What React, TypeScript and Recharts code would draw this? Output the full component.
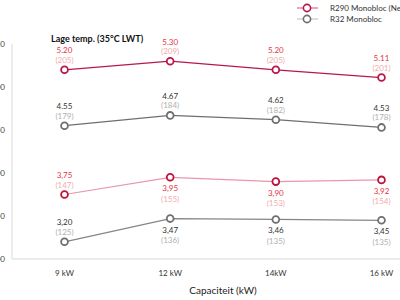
import { LineChart, Line, XAxis, YAxis, LabelList } from "recharts";

const categories = ["9 kW", "12 kW", "14kW", "16 kW"];

// Lage temp. (35°C LWT)
const r290Low = [5.2, 5.3, 5.2, 5.11];
const r290LowText = ["5.20", "5.30", "5.20", "5.11"];
const r290LowSub = ["(205)", "(209)", "(205)", "(201)"];
const r32Low = [4.55, 4.67, 4.62, 4.53];
const r32LowText = ["4.55", "4.67", "4.62", "4.53"];
const r32LowSub = ["(179)", "(184)", "(182)", "(178)"];

// second temperature regime
const r290High = [3.75, 3.95, 3.9, 3.92];
const r290HighText = ["3,75", "3,95", "3,90", "3,92"];
const r290HighSub = ["(147)", "(155)", "(153)", "(154)"];
const r32High = [3.2, 3.47, 3.46, 3.45];
const r32HighText = ["3,20", "3,47", "3,46", "3,45"];
const r32HighSub = ["(125)", "(136)", "(135)", "(135)"];

const yTicks = [3, 3.5, 4, 4.5, 5, 5.5];

const data = categories.map((c, i) => ({
  cat: c,
  r290Low: r290Low[i],
  r32Low: r32Low[i],
  r290High: r290High[i],
  r32High: r32High[i],
}));

const FONT = "Lato, 'Open Sans', sans-serif";
const CRIMSON = "#B8174A";
const RED_TEXT = "#E5343F";
const PINK_TEXT = "#F2ABAB";
const GREY = "#6F6F6F";

function makeLabel(
  texts: string[],
  subs: string[],
  mainColor: string,
  subColor: string,
  below: (i: number) => boolean
) {
  return (props: any) => {
    const { x, y, index } = props;
    const down = below(index);
    const y1 = down ? y + 11 : y - 19.5;
    const y2 = down ? y + 21.5 : y - 10;
    return (
      <g fontFamily={FONT} fontSize={8} textAnchor="middle">
        <text x={x} y={y1} dominantBaseline="central" fill={mainColor}>
          {texts[index]}
        </text>
        <text x={x} y={y2} dominantBaseline="central" fill={subColor}>
          {subs[index]}
        </text>
      </g>
    );
  };
}

const dot = (color: string) => ({ r: 3.4, stroke: color, strokeWidth: 1.8, fill: "#fff" });

export default function App() {
  return (
    <div style={{ position: "absolute", left: 0, top: 0, width: 400, height: 300, overflow: "hidden", background: "#fff" }}>
      <div style={{ position: "absolute", left: -28, top: 0 }}>
        <LineChart width={470} height={300} data={data} margin={{ top: 44, right: 8, left: 0, bottom: 0 }}>
          <XAxis
            dataKey="cat"
            height={41}
            padding={{ left: 52.5, right: 52.5 }}
            axisLine={{ stroke: "#D9D9D9" }}
            tickLine={false}
            tickSize={0}
            tickMargin={11}
            tick={{ fill: "#333", fontSize: 8, fontFamily: FONT }}
            label={{ value: "Capaciteit (kW)", position: "insideBottom", offset: 6, fill: "#222", fontSize: 10, fontFamily: FONT }}
          />
          <YAxis
            width={40}
            domain={[3, 5.5]}
            ticks={yTicks}
            axisLine={{ stroke: "#D9D9D9" }}
            tickLine={false}
            tickSize={0}
            tickMargin={7}
            tickFormatter={(v: number) => v.toFixed(2)}
            tick={{ fill: "#444", fontSize: 8, fontFamily: FONT }}
          />
          <Line dataKey="r290Low" stroke={CRIMSON} strokeWidth={1.2} dot={dot(CRIMSON)} isAnimationActive={false}>
            <LabelList content={makeLabel(r290LowText, r290LowSub, RED_TEXT, PINK_TEXT, () => false)} />
          </Line>
          <Line dataKey="r32Low" stroke={GREY} strokeWidth={1.2} dot={dot(GREY)} isAnimationActive={false}>
            <LabelList content={makeLabel(r32LowText, r32LowSub, "#333", "#B0B0B0", () => false)} />
          </Line>
          <Line dataKey="r290High" stroke="#E996AB" strokeWidth={1.2} dot={dot("#C0103C")} isAnimationActive={false}>
            <LabelList content={makeLabel(r290HighText, r290HighSub, RED_TEXT, PINK_TEXT, (i) => i > 0)} />
          </Line>
          <Line dataKey="r32High" stroke="#858585" strokeWidth={1.2} dot={dot(GREY)} isAnimationActive={false}>
            <LabelList content={makeLabel(r32HighText, r32HighSub, "#333", "#B0B0B0", (i) => i > 0)} />
          </Line>
        </LineChart>
      </div>
      <div style={{ position: "absolute", left: 51, top: 33, fontFamily: FONT, fontSize: 9, fontWeight: 700, color: "#111", whiteSpace: "nowrap" }}>
        Lage temp. (35°C LWT)
      </div>
      <svg style={{ position: "absolute", left: 290, top: 0 }} width={110} height={28}>
        <line x1={7} y1={8} x2={28} y2={8} stroke="#E06A88" strokeWidth={1.2} />
        <circle cx={17} cy={8} r={3.6} fill="#fff" stroke={CRIMSON} strokeWidth={1.6} />
        <text x={40} y={8} dominantBaseline="central" fontFamily={FONT} fontSize={8} fill="#333">R290 Monobloc (New)</text>
        <line x1={7} y1={19} x2={28} y2={19} stroke="#C8C8C8" strokeWidth={1.2} />
        <circle cx={17} cy={19} r={3.6} fill="#fff" stroke={GREY} strokeWidth={1.6} />
        <text x={40} y={19} dominantBaseline="central" fontFamily={FONT} fontSize={8} fill="#333">R32 Monobloc</text>
      </svg>
    </div>
  );
}
